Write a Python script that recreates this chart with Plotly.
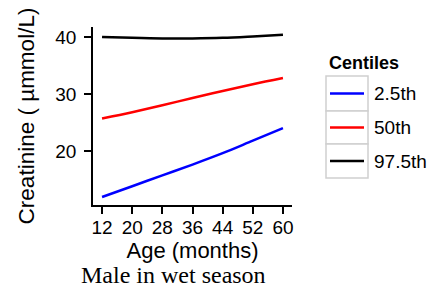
import plotly.graph_objects as go

# ---- data ----
age = [12, 20, 28, 36, 44, 52, 60]
p2_5 = [11.9, 13.8, 15.7, 17.6, 19.6, 21.8, 24.0]
p50 = [25.7, 26.8, 28.0, 29.3, 30.5, 31.7, 32.8]
p97_5 = [40.0, 39.85, 39.75, 39.75, 39.85, 40.1, 40.4]
series_names = ["2.5th", "50th", "97.5th"]
series_colors = ["#0000ff", "#ff0000", "#000000"]
x_ticks = [12, 20, 28, 36, 44, 52, 60]
y_ticks = [20, 30, 40]

OFF = 8  # default page body margin of the html page
W, H = 436 - OFF, 294 - OFF
L, R, T, B = 93 - OFF, 292 - OFF, 27 - OFF, 205 - OFF  # plot area in figure pixels


def px(x):
    return (x - OFF - L) / (R - L)


def py(y):
    return (B - (y - OFF)) / (B - T)


fig = go.Figure()
for name, vals, col in zip(series_names, [p2_5, p50, p97_5], series_colors):
    fig.add_trace(go.Scatter(x=age, y=vals, mode="lines", name=name,
                             line=dict(color=col, width=2.5, shape="spline"),
                             showlegend=False))

axis_common = dict(showgrid=False, zeroline=False, showline=True, linecolor="black",
                   linewidth=1.5, ticks="outside", ticklen=7, tickwidth=1.5,
                   tickcolor="black", mirror=False, automargin=False,
                   tickfont=dict(family="Liberation Sans, Arial", size=19, color="black"))

fig.update_xaxes(range=[9.6, 62.4], tickvals=x_ticks, ticktext=[str(v) for v in x_ticks],
                 title=dict(text="Age (months)", standoff=0,
                            font=dict(family="Liberation Sans, Arial", size=22, color="black")),
                 ticklabelstandoff=-3, **axis_common)
fig.update_yaxes(range=[10.5, 41.75], tickvals=y_ticks, ticktext=[str(v) for v in y_ticks],
                 title=dict(text="Creatinine ( µmmol/L)", standoff=14,
                            font=dict(family="Liberation Sans, Arial", size=22.5, color="black")),
                 ticklabelstandoff=4, **axis_common)

shapes = []
annotations = []
# manual legend (page pixel positions)
rows = [(76, 111), (111, 144), (144, 178)]
for (y0, y1), name, col in zip(rows, series_names, series_colors):
    shapes.append(dict(type="rect", xref="paper", yref="paper",
                       x0=px(326), x1=px(368), y0=py(y1), y1=py(y0),
                       line=dict(color="#d0d0d0", width=1.5), fillcolor="white"))
    yc = (y0 + y1) / 2
    shapes.append(dict(type="line", xref="paper", yref="paper",
                       x0=px(330), x1=px(364), y0=py(yc), y1=py(yc),
                       line=dict(color=col, width=2.5)))
    annotations.append(dict(xref="paper", yref="paper", x=px(372), y=py(yc),
                            xanchor="left", yanchor="middle", showarrow=False, text=name,
                            font=dict(family="Liberation Sans, Arial", size=19, color="black")))
annotations.append(dict(xref="paper", yref="paper", x=px(327), y=py(63),
                        xanchor="left", yanchor="middle", showarrow=False,
                        text="<b>Centiles</b>",
                        font=dict(family="Liberation Sans, Arial", size=18, color="black")))
annotations.append(dict(xref="paper", yref="paper", x=px(173), y=py(275),
                        xanchor="center", yanchor="middle", showarrow=False,
                        text="Male in wet season",
                        font=dict(family="Liberation Serif, Times New Roman", size=24, color="black")))

fig.update_layout(template="none", width=W, height=H,
                  margin=dict(l=L, r=W - R, t=T, b=H - B, autoexpand=False),
                  paper_bgcolor="white", plot_bgcolor="white",
                  shapes=shapes, annotations=annotations, showlegend=False)

fig.write_html("out.html")
